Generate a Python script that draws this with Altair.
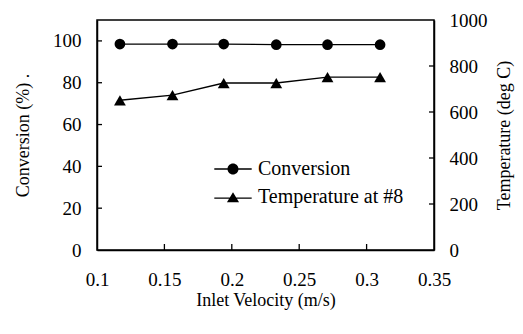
import altair as alt
import pandas as pd

# ---- data ----
velocity = [0.117, 0.156, 0.194, 0.233, 0.271, 0.310]
conversion = [98.5, 98.5, 98.5, 98.2, 98.2, 98.2]
temperature = [651, 673, 726, 726, 752, 752]
series_names = ["Conversion", "Temperature at #8"]
x_ticks = [0.1, 0.15, 0.2, 0.25, 0.3, 0.35]
conv_ticks = [0, 20, 40, 60, 80, 100]
temp_ticks = [0, 200, 400, 600, 800, 1000]

W, H = 337, 230
FONT = "Liberation Serif"

df = pd.DataFrame({"velocity": velocity, "conversion": conversion, "temperature": temperature})
df_leg = pd.DataFrame({
    "velocity": [velocity[0]] * 2,
    "conversion": [conversion[0]] * 2,
    "series": series_names,
})
df_xt = pd.DataFrame({"t": x_ticks[1:-1]})
df_ct = pd.DataFrame({"t": conv_ticks[1:]})
df_tt = pd.DataFrame({"t": temp_ticks[1:-1]})

common = dict(labelFont=FONT, labelFontSize=19, labelColor="black", labelFlush=False,
              titleFont=FONT, titleFontSize=18, titleColor="black", titleFontWeight="normal",
              ticks=False, grid=False, domainColor="black", domainWidth=1.5)

xscale = alt.Scale(domain=[0.1, 0.35], nice=False, zero=False)
xaxis = alt.Axis(values=x_ticks, format="~g", title="Inlet Velocity (m/s)",
                 labelPadding=20, titleY=41, titleBaseline="top", **common)
yl_scale = alt.Scale(domain=[0, 110], nice=False)
yr_scale = alt.Scale(domain=[0, 1000], nice=False)
yl_axis = alt.Axis(values=conv_ticks, format="d", title="Conversion (%) .", labelPadding=16,
                   titleX=-74, titleBaseline="middle", **common)
yr_axis = alt.Axis(values=temp_ticks, format="d", title="Temperature (deg C)", labelPadding=15,
                   orient="right", titleAngle=270, titleX=70, titleBaseline="middle", **common)

X = alt.X("velocity:Q", scale=xscale, axis=xaxis)
YL = alt.Y("conversion:Q", scale=yl_scale, axis=yl_axis)
YR = alt.Y("temperature:Q", scale=yr_scale, axis=yr_axis)

base = alt.Chart(df)
conv_line = base.mark_line(color="black", strokeWidth=1.3).encode(x=X, y=YL)
conv_pts = base.mark_point(shape="circle", filled=True, color="black", size=115, opacity=1).encode(x=X, y=YL)

# legend glyphs: marker with a short line stub on each side (filled bars, so no stroke needed)
circle_path = ("M-3.4,-0.12H-0.9V0.12H-3.4Z M0.9,-0.12H3.4V0.12H0.9Z "
               "M1,0A1,1 0 1,1 -1,0A1,1 0 1,1 1,0Z")
tri_path = ("M-3.4,0.08H-0.6V0.32H-3.4Z M0.6,0.08H3.4V0.32H0.6Z "
            "M0,-0.85L1.1,0.95L-1.1,0.95Z")
legend_layer = alt.Chart(df_leg).mark_point(opacity=0, filled=True, color="black").encode(
    x=X, y=YL,
    shape=alt.Shape("series:N", scale=alt.Scale(domain=series_names, range=[circle_path, tri_path]),
                    legend=alt.Legend(title=None, orient="none", legendX=126, legendY=139,
                                      symbolSize=121, symbolFillColor="black", symbolStrokeColor="black",
                                      symbolStrokeWidth=0, symbolOpacity=1, labelOffset=15,
                                      labelFontSize=20, labelFont=FONT, labelColor="black",
                                      rowPadding=8, padding=0, labelLimit=300)),
)

x_tick_rules = alt.Chart(df_xt).mark_rule(color="black", strokeWidth=1.3).encode(
    x=alt.X("t:Q", scale=xscale, axis=xaxis), y=alt.value(H - 6), y2=alt.value(H))
yl_tick_rules = alt.Chart(df_ct).mark_rule(color="black", strokeWidth=1.3).encode(
    y=alt.Y("t:Q", scale=yl_scale, axis=yl_axis), x=alt.value(0), x2=alt.value(5))

temp_line = base.mark_line(color="black", strokeWidth=1.3).encode(x=X, y=YR)
temp_pts = base.mark_point(shape="triangle-up", filled=True, color="black", size=140, opacity=1).encode(x=X, y=YR)
yr_tick_rules = alt.Chart(df_tt).mark_rule(color="black", strokeWidth=1.3).encode(
    y=alt.Y("t:Q", scale=yr_scale, axis=yr_axis), x=alt.value(W - 5), x2=alt.value(W))

left = alt.layer(x_tick_rules, yl_tick_rules, conv_line, conv_pts, legend_layer)
right = alt.layer(yr_tick_rules, temp_line, temp_pts)

chart = alt.layer(left, right).resolve_scale(y="independent").properties(
    width=W, height=H,
    autosize=alt.AutoSizeParams(type="none"),
    padding={"left": 89, "top": 12, "right": 523 - 16 - 89 - W, "bottom": 334 - 16 - 12 - H},
    background="white",
).configure(
    font=FONT
).configure_axis(
    labelFont=FONT, titleFont=FONT
).configure_view(
    stroke="black", strokeWidth=1.5
)

chart.save("out.html", embed_options={"renderer": "svg", "actions": False})
